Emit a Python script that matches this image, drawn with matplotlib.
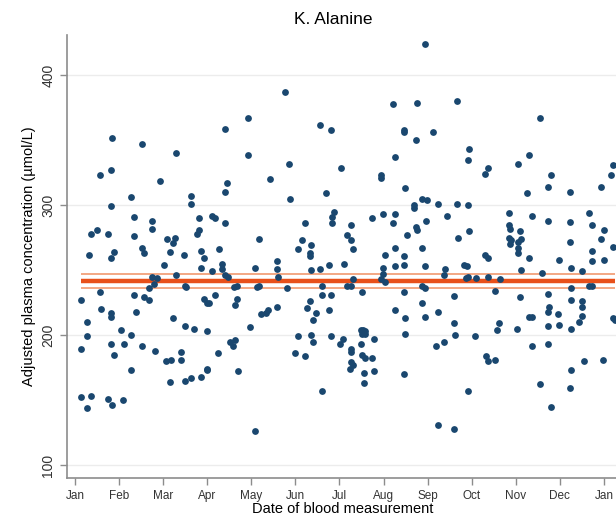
import numpy as np
import matplotlib
matplotlib.use("Agg")
import matplotlib.pyplot as plt

plt.rcParams["font.family"] = ["Liberation Sans", "DejaVu Sans"]

month_labels = ["Jan", "Feb", "Mar", "Apr", "May", "Jun", "Jul",
                "Aug", "Sep", "Oct", "Nov", "Dec", "Jan"]

# date of blood measurement, in months since 1 January
date_months = np.array([
    # Jan - Mar
    0.85, 1.52, 2.30, 0.57, 0.81, 1.93, 1.28, 0.81, 1.35, 1.75,
    1.75, 0.37, 0.51, 0.74, 1.35, 2.09, 2.26, 0.31, 0.88, 1.52,
    1.56, 2.16, 2.23, 0.81, 2.03, 2.30, 1.75, 1.85, 1.79, 1.68,
    0.57, 0.14, 1.35, 1.56, 1.68, 0.60, 0.81, 0.81, 1.38, 0.28,
    2.23, 1.05, 0.28, 1.28, 0.14, 0.81, 1.11, 1.52, 0.88, 1.82,
    2.06, 2.19, 1.28, 2.16, 0.14, 0.37, 0.28, 0.74, 0.85, 1.08,
    # Mar - May
    4.77, 3.92, 3.40, 3.92, 4.43, 3.44, 3.40, 2.64, 2.64, 3.10,
    3.17, 2.81, 3.40, 2.81, 2.78, 4.18, 2.47, 2.87, 2.93, 3.27,
    3.33, 3.33, 2.87, 3.10, 4.58, 4.58, 4.61, 4.08, 3.40, 3.47,
    2.49, 2.53, 3.61, 3.68, 4.14, 4.18, 4.80, 3.17, 2.93, 3.00,
    3.04, 3.68, 3.64, 4.21, 4.34, 4.38, 4.58, 2.50, 2.69, 3.00,
    3.97, 3.51, 3.58, 3.64, 2.40, 2.40, 3.24, 3.00, 3.00, 3.71,
    2.50, 2.64, 2.87, 4.08,
    # May - Aug
    7.22, 5.57, 5.80, 4.86, 6.04, 7.25, 6.94, 6.94, 5.70, 4.87,
    5.87, 5.83, 5.83, 5.23, 6.27, 6.75, 6.98, 7.22, 7.27, 5.16,
    5.06, 5.36, 5.33, 5.33, 6.17, 6.27, 6.31, 6.10, 7.03, 7.25,
    7.25, 5.36, 5.57, 5.77, 6.98, 6.98, 6.95, 7.03, 6.31, 6.18,
    6.26, 5.60, 5.60, 5.80, 6.51, 5.33, 5.26, 5.47, 5.40, 5.77,
    7.25, 5.06, 5.36, 5.40, 5.80, 6.07, 6.01, 6.48, 6.54, 6.57,
    6.51, 6.57, 6.78, 6.48, 6.27, 6.27, 4.99, 5.23, 6.51, 6.57,
    6.73, 6.27, 6.31, 6.24, 6.55, 6.78, 6.55, 5.60,
    # Aug - Oct
    7.93, 7.76, 8.67, 7.46, 7.46, 7.73, 8.13, 8.93, 8.91, 9.37,
    9.31, 7.48, 7.69, 7.69, 7.88, 7.99, 8.23, 8.67, 8.91, 8.43,
    7.73, 7.76, 7.97, 7.53, 8.93, 8.70, 7.88, 7.46, 7.46, 7.93,
    9.31, 9.37, 8.83, 8.89, 8.40, 8.37, 8.91, 8.87, 9.10, 9.37,
    9.65, 7.88, 7.93, 7.46, 8.60, 9.54, 7.88, 8.23, 7.48, 7.93,
    8.60, 9.62, 9.58, 7.48, 8.63, 9.07, 8.20, 8.37, 9.33, 9.37,
    9.54, 7.46, 8.91, 8.23, 8.60,
    # Oct - Jan
    10.56, 10.05, 10.29, 10.79, 10.73, 10.26, 11.23, 11.94, 12.17, 12.21,
    9.84, 9.85, 9.87, 9.84, 9.89, 9.86, 10.09, 10.11, 10.05, 10.05,
    10.05, 10.36, 10.73, 11.23, 11.23, 11.67, 11.74, 12.01, 11.94, 12.21,
    11.74, 11.74, 12.01, 10.29, 10.99, 11.26, 10.13, 10.59, 11.50, 11.67,
    11.72, 11.26, 10.73, 10.09, 11.26, 11.50, 11.50, 10.76, 10.73, 10.96,
    11.50, 10.29, 10.36, 12.21, 12.25, 11.43, 10.73, 10.99, 10.02, 11.26,
    10.36, 10.73, 11.54, 11.97, 11.26, 10.56, 11.23, 10.79,
])

# adjusted plasma alanine (umol/L)
alanine = np.array([
    352, 347, 340, 323, 327, 319, 306, 299, 291, 288,
    282, 278, 281, 278, 276, 274, 275, 262, 264, 267,
    263, 264, 271, 259, 254, 246, 245, 244, 239, 236,
    233, 227, 231, 229, 227, 220, 217, 214, 218, 210,
    213, 204, 199, 200, 189, 193, 193, 192, 185, 188,
    180, 181, 173, 164, 152, 153, 144, 151, 146, 150,
    387, 367, 359, 339, 320, 317, 310, 307, 301, 292,
    290, 290, 286, 281, 278, 274, 262, 265, 259, 266,
    255, 251, 252, 249, 257, 251, 245, 252, 246, 245,
    238, 237, 237, 238, 237, 238, 236, 231, 228, 225,
    225, 228, 223, 216, 217, 219, 222, 207, 205, 203,
    206, 195, 192, 196, 187, 181, 186, 174, 173, 172,
    165, 167, 168, 126,
    378, 362, 358, 332, 329, 337, 323, 321, 309, 305,
    295, 291, 286, 286, 285, 290, 293, 286, 293, 273,
    266, 269, 263, 261, 277, 273, 266, 255, 262, 267,
    253, 250, 251, 254, 252, 247, 243, 241, 243, 238,
    238, 238, 231, 231, 233, 226, 221, 217, 212, 219,
    219, 199, 200, 195, 199, 197, 193, 204, 204, 203,
    201, 201, 197, 193, 189, 187, 186, 184, 185, 182,
    182, 179, 177, 174, 171, 172, 163, 157,
    424, 379, 380, 358, 356, 350, 356, 343, 335, 329,
    324, 313, 300, 298, 305, 304, 301, 301, 300, 292,
    283, 281, 288, 277, 280, 275, 267, 261, 254, 253,
    262, 259, 254, 253, 251, 246, 245, 244, 244, 245,
    243, 238, 236, 233, 230, 234, 225, 218, 213, 214,
    209, 209, 204, 201, 200, 199, 192, 195, 184, 180,
    181, 170, 157, 131, 128,
    367, 332, 339, 323, 314, 309, 310, 314, 323, 331,
    294, 285, 282, 275, 273, 270, 280, 274, 272, 267,
    263, 292, 288, 287, 272, 294, 285, 281, 274, 268,
    265, 257, 258, 259, 258, 252, 250, 248, 249, 238,
    238, 236, 232, 229, 227, 226, 222, 222, 218, 216,
    215, 214, 214, 213, 212, 210, 207, 208, 205, 205,
    192, 193, 180, 181, 173, 162, 159, 145,
])

# overall mean and its 95% confidence interval
mean_conc = 241.5
ci_low = 236.0
ci_high = 247.0

fig = plt.figure(figsize=(6.16, 5.17), dpi=100)
ax = fig.add_axes([0.1088, 0.0754, 0.9145, 0.8569])

ax.set_xlim(-0.18, 12.6)
ax.set_ylim(90, 431)

ax.hlines([ci_low, ci_high], date_months.min(), date_months.max(),
          color="#f2a07a", lw=1.3, zorder=2)
ax.hlines(mean_conc, date_months.min(), date_months.max(),
          color="#e8501a", lw=3.2, zorder=2)
ax.scatter(date_months, alanine, s=24, color="#1a476f", linewidths=0, zorder=3)

ax.set_xticks(np.arange(13))
ax.set_xticklabels(month_labels, fontsize=8.5, color="#333333")
ax.set_yticks([100, 200, 300, 400])
ax.set_yticklabels(["100", "200", "300", "400"], rotation=90, va="center",
                   fontsize=10, color="#333333")
ax.yaxis.grid(True, color="#ececec", lw=1)
ax.set_axisbelow(True)

for side in ("top", "right"):
    ax.spines[side].set_visible(False)
for side in ("left", "bottom"):
    ax.spines[side].set_color("#8c8c8c")
    ax.spines[side].set_linewidth(1.2)
ax.tick_params(colors="#8c8c8c", length=5, width=1, labelcolor="#333333")

ax.set_ylabel("Adjusted plasma concentration (\u00b5mol/L)", fontsize=10.5)
ax.set_xlabel("Date of blood measurement", fontsize=10.5, labelpad=1)
ax.xaxis.set_label_coords(0.49, -0.055)
fig.text(333 / 616, 1 - 20 / 517, "K. Alanine", ha="center", va="center",
         fontsize=12.5)

fig.savefig("out.png", dpi=100)
